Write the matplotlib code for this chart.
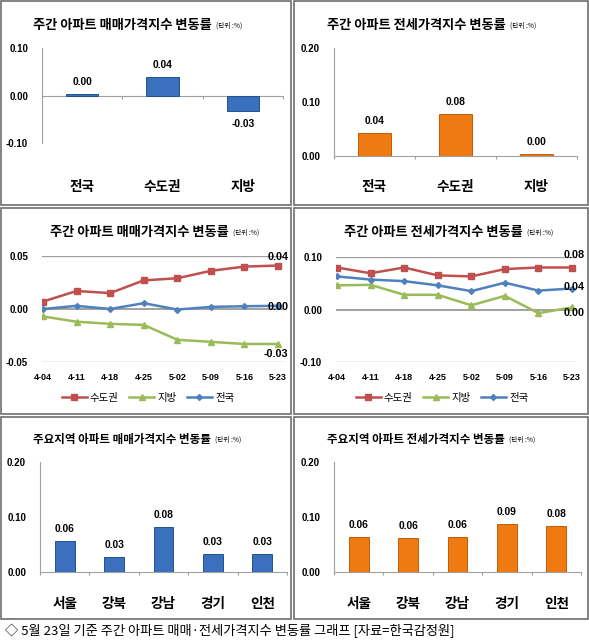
import numpy as np
import matplotlib
matplotlib.use("Agg")
import matplotlib.pyplot as plt
from matplotlib.patches import Rectangle

plt.rcParams['font.family'] = ['Noto Sans CJK KR', 'DejaVu Sans']

# data
top_cats = ['전국', '수도권', '지방']
sale_week = [0.003, 0.04, -0.033]
jeonse_week = [0.042, 0.078, 0.003]

weeks = ['4-04', '4-11', '4-18', '4-25', '5-02', '5-09', '5-16', '5-23']
sale_metro = [0.007, 0.017, 0.015, 0.027, 0.029, 0.036, 0.040, 0.041]
sale_local = [-0.007, -0.012, -0.014, -0.015, -0.029, -0.031, -0.033, -0.033]
sale_nation = [0.000, 0.003, 0.000, 0.0055, -0.0005, 0.002, 0.0026, 0.003]
jeonse_metro = [0.080, 0.069, 0.080, 0.065, 0.063, 0.077, 0.080, 0.080]
jeonse_local = [0.046, 0.047, 0.028, 0.028, 0.008, 0.026, -0.007, 0.004]
jeonse_nation = [0.063, 0.057, 0.054, 0.046, 0.035, 0.051, 0.036, 0.040]

regions = ['서울', '강북', '강남', '경기', '인천']
sale_region = [0.057, 0.028, 0.081, 0.032, 0.032]
jeonse_region = [0.064, 0.062, 0.0645, 0.088, 0.084]

W, H = 589, 644
PT = 100 / 72.0   # pixels per point
NUM = 'Liberation Sans'
BLUE, BLUE_E = '#3A70BE', '#24508F'
ORANGE, ORANGE_E = '#F07A12', '#C25C06'
RED, GREEN, LBLUE = '#C0504D', '#9BBB59', '#4F81BD'
AXC = '#A0A0A0'

fig = plt.figure(figsize=(W / 100, H / 100), dpi=100)


def px_axes(x0, y0, x1, y1):
    return fig.add_axes([x0 / W, 1 - y1 / H, (x1 - x0) / W, (y1 - y0) / H])


def title(x, y, main, size):
    t = fig.text(x / W, 1 - y / H, main, fontsize=size, fontweight='bold',
                 ha='left', va='center')
    bb = t.get_window_extent(fig.canvas.get_renderer())
    fig.text((bb.x1 + 4) / W, 1 - (y + 1) / H, '(단위 :%)', fontsize=4.8,
             ha='left', va='center')


def bar_panel(box, cats, vals, color, edge, ylim, yticks, label_gap):
    ax = px_axes(*box)
    xs = np.arange(len(cats))
    ax.bar(xs, vals, width=0.4, color=color, edgecolor=edge, linewidth=0.7, zorder=3)
    ax.set_xlim(-0.5, len(cats) - 0.5)
    ax.set_ylim(*ylim)
    for s in ['top', 'right']:
        ax.spines[s].set_visible(False)
    ax.spines['left'].set_color(AXC)
    ax.spines['bottom'].set_color(AXC)
    ax.spines['bottom'].set_position(('data', 0))
    ax.set_xticks(np.arange(len(cats) + 1) - 0.5)
    ax.set_xticklabels([])
    ax.set_xticks(xs, minor=True)
    ax.set_xticklabels(cats, minor=True, fontsize=9.8, fontweight='bold')
    ax.tick_params(axis='x', which='major', length=2.5, color=AXC, direction='out')
    ax.tick_params(axis='x', which='minor', length=0, pad=label_gap / PT)
    ax.set_yticks(yticks)
    ax.set_yticklabels([f'{v:.2f}' for v in yticks], fontfamily=NUM,
                       fontweight='bold', fontsize=7)
    ax.tick_params(axis='y', length=0, pad=14 / PT)
    for x, v in zip(xs, vals):
        off = 12 if v >= 0 else -13
        ax.annotate(f'{v:.2f}', (x, v), xytext=(0, off / PT), textcoords='offset points',
                    ha='center', va='center', fontfamily=NUM, fontweight='bold',
                    fontsize=7.4)
    return ax


def line_panel(box, series, ylim, yticks, end_offs, leg_xy):
    ax = px_axes(*box)
    xs = np.arange(len(weeks))
    for v in yticks:
        ax.axhline(v, color=AXC, lw=1.0 if v else 1.4, zorder=1)
    handles = []
    for (name, vals, col, mk, ms), off in zip(series, end_offs):
        h, = ax.plot(xs, vals, color=col, marker=mk, markersize=ms, lw=1.8,
                     label=name, zorder=3)
        handles.append(h)
        ax.annotate(f'{vals[-1]:.2f}', (xs[-1], vals[-1]),
                    xytext=(off[0] / PT, off[1] / PT), textcoords='offset points',
                    ha='center', va='center', fontfamily=NUM, fontweight='bold',
                    fontsize=7.8, zorder=4)
    ax.set_xlim(-0.03, 7.15)
    ax.set_ylim(*ylim)
    for s in ax.spines.values():
        s.set_visible(False)
    ax.set_xticks(xs)
    ax.set_xticklabels(weeks, fontfamily=NUM, fontweight='bold', fontsize=6.5)
    ax.set_yticks(yticks)
    ax.set_yticklabels([f'{v:.2f}' for v in yticks], fontfamily=NUM,
                       fontweight='bold', fontsize=7)
    ax.tick_params(axis='both', length=0)
    ax.tick_params(axis='y', pad=14 / PT)
    ax.tick_params(axis='x', pad=11 / PT)
    ax.legend(handles=handles, loc='center', ncol=3, frameon=False, fontsize=7.5,
              bbox_to_anchor=(leg_xy[0] / W, 1 - leg_xy[1] / H),
              bbox_transform=fig.transFigure, handlelength=2.4, columnspacing=1.0,
              handletextpad=0.3)
    return ax


# panel frames
for (x0, y0, x1, y1) in [(1, 1, 291, 205), (294, 1, 588, 205),
                         (1, 208, 291, 414), (294, 208, 588, 414),
                         (1, 417, 291, 619), (294, 417, 588, 619)]:
    fig.add_artist(Rectangle((x0 / W, 1 - y1 / H), (x1 - x0) / W, (y1 - y0) / H,
                             transform=fig.transFigure, fill=False,
                             edgecolor='#6E6E6E', lw=1.2))

# top row: weekly bars
title(33, 25, '주간 아파트 매매가격지수 변동률', 9.5)
bar_panel((42, 48, 283, 143), top_cats, sale_week, BLUE, BLUE_E,
          (-0.1, 0.1), [-0.1, 0.0, 0.1], 84)
title(327, 25, '주간 아파트 전세가격지수 변동률', 9.5)
bar_panel((334, 48, 577, 156), top_cats, jeonse_week, ORANGE, ORANGE_E,
          (0.0, 0.2), [0.0, 0.1, 0.2], 24)

# middle row: weekly trend lines
title(50, 232, '주간 아파트 매매가격지수 변동률', 9.5)
line_panel((42, 256, 283, 362),
           [('수도권', sale_metro, RED, 's', 4.5),
            ('지방', sale_local, GREEN, '^', 5),
            ('전국', sale_nation, LBLUE, 'D', 3)],
           (-0.05, 0.05), [-0.05, 0.0, 0.05],
           [(0, 9), (-2, -10), (0, -1)], (148, 398))
title(344, 232, '주간 아파트 전세가격지수 변동률', 9.5)
line_panel((336, 257, 577, 362),
           [('수도권', jeonse_metro, RED, 's', 4.5),
            ('지방', jeonse_local, GREEN, '^', 5),
            ('전국', jeonse_nation, LBLUE, 'D', 3)],
           (-0.1, 0.1), [-0.1, 0.0, 0.1],
           [(2, 12), (2, -6), (2, 2)], (442, 398))

# bottom row: regions
title(33, 439, '주요지역 아파트 매매가격지수 변동률', 8.3)
bar_panel((40, 462, 287, 572), regions, sale_region, BLUE, BLUE_E,
          (0.0, 0.2), [0.0, 0.1, 0.2], 25)
title(327, 439, '주요지역 아파트 전세가격지수 변동률', 8.3)
bar_panel((334, 462, 581, 572), regions, jeonse_region, ORANGE, ORANGE_E,
          (0.0, 0.2), [0.0, 0.1, 0.2], 25)

fig.text(5 / W, 1 - 631 / H,
         '◇ 5월 23일 기준 주간 아파트 매매·전세가격지수 변동률 그래프 [자료=한국감정원]',
         fontsize=9.5, ha='left', va='center')

fig.savefig('out.png', dpi=100)
